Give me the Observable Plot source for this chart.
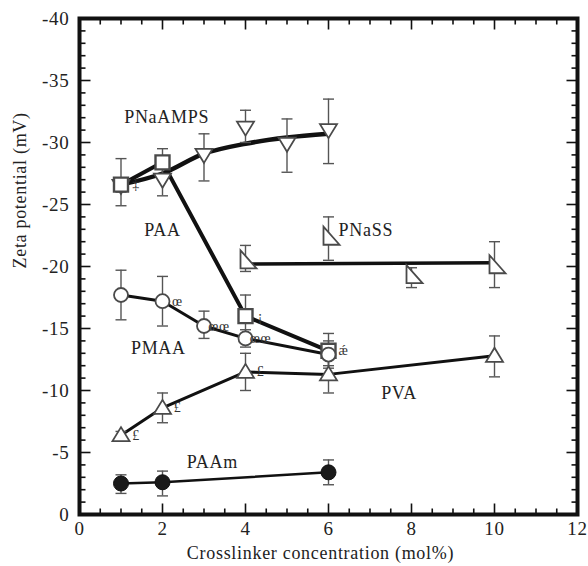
<!DOCTYPE html>
<html><head><meta charset="utf-8">
<script src="https://cdn.jsdelivr.net/npm/d3@7"></script>
<script src="https://cdn.jsdelivr.net/npm/@observablehq/plot@0.6"></script>
<style>
html,body{margin:0;padding:0;background:#fff;}
#chart svg{display:block;}
#chart svg, #chart svg text{font-family:"Liberation Serif", "Times New Roman", serif !important;}
</style></head><body><div id="chart"></div>
<script>
// ---- tick labels ----
const xMajor = [0, 2, 4, 6, 8, 10, 12];
const xMinor = [0.5,1,1.5,2.5,3,3.5,4.5,5,5.5,6.5,7,7.5,8.5,9,9.5,10.5,11,11.5];
const yMajor = [0, -5, -10, -15, -20, -25, -30, -35, -40];
const yMinor = [-1,-2,-3,-4,-6,-7,-8,-9,-11,-12,-13,-14,-16,-17,-18,-19,-21,-22,-23,-24,-26,-27,-28,-29,-31,-32,-33,-34,-36,-37,-38,-39];
const xTitle = "Crosslinker concentration (mol%)";
const yTitle = "Zeta potential (mV)";

// ---- PNaAMPS (down triangles) ----
const ampsX  = [1, 2, 3, 4, 5, 6];
const ampsY  = [-26.5, -27.0, -29.0, -31.2, -29.9, -31.0];
const ampsLo = [-26.0, -25.7, -26.9, -30.0, -27.6, -28.3];
const ampsHi = [-27.0, -28.3, -30.7, -32.6, -31.9, -33.5];
const ampsFitX = [1, 2, 3, 4, 5, 6];
const ampsFitY = [-26.6, -27.5, -29.1, -29.9, -30.4, -30.7];

// ---- PAA (squares) ----
const paaX  = [1, 2, 4, 6];
const paaY  = [-26.6, -28.4, -16.0, -13.2];
const paaLo = [-24.9, -27.3, -14.5, -11.8];
const paaHi = [-28.7, -29.5, -17.7, -14.6];

// ---- PMAA (open circles) ----
const pmaaX  = [1, 2, 3, 4, 6];
const pmaaY  = [-17.7, -17.2, -15.2, -14.2, -12.9];
const pmaaLo = [-15.7, -15.2, -14.2, -13.5, -12.0];
const pmaaHi = [-19.7, -19.2, -16.4, -14.9, -14.0];

// ---- PNaSS (right triangles) ----
const pnassX  = [4, 6, 8, 10];
const pnassY  = [-20.5, -22.4, -19.3, -20.1];
const pnassLo = [-19.6, -20.5, -18.3, -18.3];
const pnassHi = [-21.7, -24.0, -19.9, -22.0];
const pnassFitX = [4, 10];
const pnassFitY = [-20.2, -20.3];

// ---- PVA (up triangles) ----
const pvaX  = [1, 2, 4, 6, 10];
const pvaY  = [-6.4, -8.6, -11.5, -11.3, -12.8];
const pvaLo = [-6.1, -7.4, -10.0, -9.8, -11.1];
const pvaHi = [-6.7, -9.8, -13.0, -12.8, -14.4];

// ---- PAAm (filled circles) ----
const paamX  = [1, 2, 6];
const paamY  = [-2.5, -2.6, -3.4];
const paamLo = [-1.7, -1.5, -2.4];
const paamHi = [-3.2, -3.5, -4.4];

// ---- series labels ----
const labelText = ["PNaAMPS", "PAA", "PMAA", "PNaSS", "PVA", "PAAm"];
const labelX    = [2.1, 2.0, 1.9, 6.9, 7.7, 3.2];
const labelY    = [-32.0, -22.9, -13.4, -22.9, -9.8, -4.2];

// ---- stray glyphs beside points (as in the source figure) ----
const glyphSeries = ["PAA", "PMAA", "PMAA", "PMAA", "PAA", "PAA", "PVA", "PVA", "PVA"];
const glyphX      = [1, 2, 3, 4, 4, 6, 1, 2, 4];
const glyphText   = ["‡", "œ", "œœ", "œœ", "¡", "ǽ", "£", "£", "£"];

const rows = (xs, ys, lo, hi) => xs.map((x, i) => ({x, y: ys[i], lo: lo[i], hi: hi[i]}));
const amps = rows(ampsX, ampsY, ampsLo, ampsHi);
const paa = rows(paaX, paaY, paaLo, paaHi);
const pmaa = rows(pmaaX, pmaaY, pmaaLo, pmaaHi);
const pnass = rows(pnassX, pnassY, pnassLo, pnassHi);
const pva = rows(pvaX, pvaY, pvaLo, pvaHi);
const paam = rows(paamX, paamY, paamLo, paamHi);
const ampsFit = ampsFitX.map((x, i) => ({x, y: ampsFitY[i]}));
const pnassFit = pnassFitX.map((x, i) => ({x, y: pnassFitY[i]}));
const labels = labelText.map((t, i) => ({t, x: labelX[i], y: labelY[i]}));
const seriesMap = {PAA: paa, PMAA: pmaa, PVA: pva};
const glyphs = glyphText.map((t, i) => {
  const p = seriesMap[glyphSeries[i]].find(d => d.x === glyphX[i]);
  return {t, x: p.x, y: p.y};
});

// ---- custom symbols ----
const sym = draw => ({draw});
const tickUp = n => sym(c => { c.moveTo(0, 0); c.lineTo(0, -n); });
const tickDown = n => sym(c => { c.moveTo(0, 0); c.lineTo(0, n); });
const tickRight = n => sym(c => { c.moveTo(0, 0); c.lineTo(n, 0); });
const tickLeft = n => sym(c => { c.moveTo(0, 0); c.lineTo(-n, 0); });
const cap = sym(c => { c.moveTo(-5.5, 0); c.lineTo(5.5, 0); });
const square = sym(c => { c.rect(-7, -7, 14, 14); });
const circ = r => sym(c => { c.moveTo(r, 0); c.arc(0, 0, r, 0, 2 * Math.PI); c.closePath(); });
const triUp = sym(c => { c.moveTo(0, -8); c.lineTo(8.5, 6); c.lineTo(-8.5, 6); c.closePath(); });
const triDown = sym(c => { c.moveTo(0, 8); c.lineTo(8.5, -6); c.lineTo(-8.5, -6); c.closePath(); });
const rightTri = sym(c => { c.moveTo(-5, -10); c.lineTo(-5, 8); c.lineTo(11, 8); c.closePath(); });

const symStroke = "#4a4a4a";
const errStroke = "#555";
const errMarks = data => [
  Plot.ruleX(data, {x: "x", y1: "lo", y2: "hi", stroke: errStroke, strokeWidth: 1.4}),
  Plot.dot(data, {x: "x", y: "lo", symbol: cap, fill: "none", stroke: errStroke, strokeWidth: 1.4}),
  Plot.dot(data, {x: "x", y: "hi", symbol: cap, fill: "none", stroke: errStroke, strokeWidth: 1.4})
];
const dots = (data, symbol, opts = {}) =>
  Plot.dot(data, {x: "x", y: "y", symbol, fill: "white", stroke: symStroke, strokeWidth: 1.8, ...opts});
const tk = {fill: "none", stroke: "#111", strokeWidth: 1.6};

const chart = Plot.plot({
  width: 588, height: 566,
  marginLeft: 79, marginRight: 11, marginTop: 18, marginBottom: 52,
  x: {domain: [0, 12]},
  y: {domain: [0, -40]},
  style: {fontFamily: "Liberation Serif", fontSize: "18px", color: "#222", background: "#fff"},
  marks: [
    Plot.axisX({ticks: xMajor, tickSize: 0, tickPadding: 7, fontSize: 19, tickFormat: d => String(d), label: null}),
    Plot.axisY({ticks: yMajor, tickSize: 0, tickPadding: 10, fontSize: 19, tickFormat: d => String(d), label: null}),
    Plot.text([xTitle], {text: d => d, frameAnchor: "bottom", dy: 39, dx: -8, lineAnchor: "middle", fontSize: 18, fill: "#222"}),
    Plot.text([yTitle], {text: d => d, frameAnchor: "left", dx: -59, dy: 2, rotate: -90, lineAnchor: "middle", fontSize: 18, fill: "#222"}),
    // inward ticks
    Plot.dot(xMajor, {x: d => d, y: () => 0, symbol: tickUp(11), ...tk}),
    Plot.dot(xMinor, {x: d => d, y: () => 0, symbol: tickUp(6), ...tk}),
    Plot.dot(xMajor, {x: d => d, y: () => -40, symbol: tickDown(11), ...tk}),
    Plot.dot(xMinor, {x: d => d, y: () => -40, symbol: tickDown(6), ...tk}),
    Plot.dot(yMajor, {x: () => 0, y: d => d, symbol: tickRight(11), ...tk}),
    Plot.dot(yMinor, {x: () => 0, y: d => d, symbol: tickRight(6), ...tk}),
    Plot.dot(yMajor, {x: () => 12, y: d => d, symbol: tickLeft(11), ...tk}),
    Plot.dot(yMinor, {x: () => 12, y: d => d, symbol: tickLeft(6), ...tk}),
    // lines
    Plot.line(ampsFit, {x: "x", y: "y", curve: "catmull-rom", stroke: "#111", strokeWidth: 4.5}),
    Plot.line(paa, {x: "x", y: "y", stroke: "#111", strokeWidth: 4}),
    Plot.line(pmaa, {x: "x", y: "y", stroke: "#111", strokeWidth: 3}),
    Plot.line(pnassFit, {x: "x", y: "y", stroke: "#111", strokeWidth: 3.5}),
    Plot.line(pva, {x: "x", y: "y", stroke: "#111", strokeWidth: 3}),
    Plot.line(paam, {x: "x", y: "y", stroke: "#111", strokeWidth: 2.5}),
    // error bars
    ...errMarks(amps), ...errMarks(paa), ...errMarks(pmaa), ...errMarks(pnass), ...errMarks(pva), ...errMarks(paam),
    // symbols
    dots(amps, triDown),
    dots(paa, square, {strokeWidth: 2.4}),
    dots(pmaa, circ(7)),
    dots(pnass, rightTri),
    dots(pva, triUp),
    dots(paam, circ(7.5), {fill: "#1a1a1a", stroke: "#111", strokeWidth: 1}),
    // glyphs & labels
    Plot.text(glyphs, {x: "x", y: "y", text: "t", dx: 15, fontSize: 14, fill: "#333", textAnchor: "middle"}),
    Plot.text(labels, {x: "x", y: "y", text: "t", fontSize: 18, fill: "#222"}),
    Plot.frame({stroke: "#111", strokeWidth: 4})
  ]
});
// the source figure's lettering is slightly wider than plain Times
d3.select(chart).selectAll("text").style("letter-spacing", "0.7px");
document.getElementById("chart").appendChild(chart);
</script></body></html>
